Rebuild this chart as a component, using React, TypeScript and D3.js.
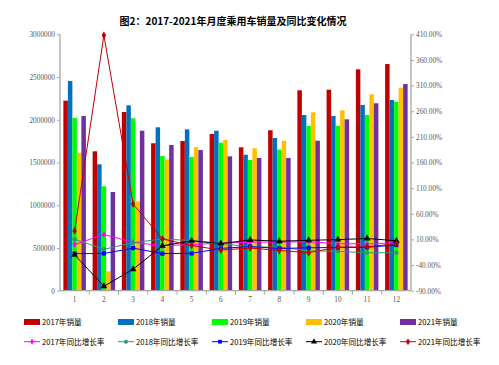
import React, { useEffect, useRef } from "react";
import * as d3 from "d3";

const months = ["1", "2", "3", "4", "5", "6", "7", "8", "9", "10", "11", "12"];
const barYears = ["2017年销量", "2018年销量", "2019年销量", "2020年销量", "2021年销量"];
const sales2017 = [2223000, 1631000, 2091000, 1725000, 1751000, 1833000, 1678000, 1877000, 2345000, 2352000, 2590000, 2652000];
const sales2018 = [2453000, 1479000, 2169000, 1912000, 1888000, 1872000, 1591000, 1787000, 2056000, 2044000, 2173000, 2231000];
const sales2019 = [2020000, 1221000, 2017000, 1576000, 1564000, 1732000, 1529000, 1650000, 1927000, 1927000, 2056000, 2211000];
const sales2020 = [1615000, 227000, 1046000, 1537000, 1678000, 1763000, 1666000, 1755000, 2087000, 2111000, 2298000, 2375000];
const sales2021 = [2044000, 1155000, 1872000, 1705000, 1646000, 1572000, 1553000, 1553000, 1755000, 2005000, 2193000, 2418000];

const lineYears = ["2017年同比增长率", "2018年同比增长率", "2019年同比增长率", "2020年同比增长率", "2021年同比增长率"];
const growth2017 = [0.2, 19.5, 4.4, -2.2, -0.1, 2.9, 4.5, 5.2, 5.2, 1.7, 1.4, 3.5];
const growth2018 = [10.4, -9.3, 3.8, 10.8, 7.8, 2.1, -5.1, -4.8, -12.3, -13.1, -16.1, -15.9];
const growth2019 = [-17.7, -17.4, -7.0, -17.6, -17.2, -7.5, -3.9, -7.7, -6.3, -5.7, -5.4, -0.9];
const growth2020 = [-20.0, -81.4, -48.1, -2.5, 7.3, 1.8, 9.0, 6.4, 8.3, 9.6, 11.8, 7.4];
const growth2021 = [26.6, 408.0, 79.0, 11.0, -1.9, -10.8, -6.8, -11.5, -15.9, -5.0, -4.6, 1.8];

const leftTicks = [0, 500000, 1000000, 1500000, 2000000, 2500000, 3000000];
const rightTicks = [-90, -40, 10, 60, 110, 160, 210, 260, 310, 360, 410];

const barColors = ["#C00000", "#0070C0", "#00FF00", "#FFC000", "#7030A0"];
const lineColors = ["#FF00FF", "#339966", "#0000FF", "#000000", "#C00000"];
const symbols = [d3.symbolDiamond, d3.symbolCircle, d3.symbolSquare, d3.symbolTriangle, d3.symbolDiamond];
const symbolSizes = [14, 16, 18, 20, 18];

const App = () => {
  const svgRef = useRef<SVGSVGElement>(null);

  useEffect(() => {
    const svg = d3.select(svgRef.current);
    svg.selectAll("*").remove();

    const left = 60;
    const right = 411;
    const top = 34.3;
    const bottom = 290.7;
    const axisGrey = "#A6A6A6";
    const labelColor = "#595959";

    const salesData = [sales2017, sales2018, sales2019, sales2020, sales2021];
    const growthData = [growth2017, growth2018, growth2019, growth2020, growth2021];

    const x0 = d3.scaleBand().domain(months).range([left, right]).paddingInner(0.23).paddingOuter(0.115);
    const x1 = d3.scaleBand().domain(barYears).range([0, x0.bandwidth()]).padding(0);
    const xc = d3.scaleBand().domain(months).range([left, right]);
    const yL = d3.scaleLinear().domain([0, 3000000]).range([bottom, top]);
    const yR = d3.scaleLinear().domain([-90, 410]).range([bottom, top]);

    // title
    svg.append("text")
      .attr("x", 233)
      .attr("y", 25)
      .attr("text-anchor", "middle")
      .attr("font-family", "'Noto Sans CJK SC', sans-serif")
      .attr("font-weight", "bold")
      .attr("font-size", 10)
      .attr("fill", "#000")
      .text("图2：2017-2021年月度乘用车销量及同比变化情况");

    // bars
    barYears.forEach((name, si) => {
      svg.append("g")
        .selectAll("rect")
        .data(salesData[si])
        .join("rect")
        .attr("x", (d, i) => (x0(months[i]) as number) + (x1(name) as number))
        .attr("y", (d) => yL(d))
        .attr("width", x1.bandwidth())
        .attr("height", (d) => bottom - yL(d))
        .attr("fill", barColors[si]);
    });

    // axes
    const leftAxis = svg.append("g")
      .attr("transform", `translate(${left},0)`)
      .call(d3.axisLeft(yL).tickValues(leftTicks).tickSize(3).tickPadding(2).tickFormat((d) => String(d)));
    const rightAxis = svg.append("g")
      .attr("transform", `translate(${right},0)`)
      .call(d3.axisRight(yR).tickValues(rightTicks).tickSize(3).tickPadding(2).tickFormat((d) => (d as number).toFixed(2) + "%"));
    const bottomAxis = svg.append("g")
      .attr("transform", `translate(0,${bottom})`)
      .call(d3.axisBottom(xc).tickSize(0).tickPadding(6));

    [leftAxis, rightAxis, bottomAxis].forEach((g) => {
      g.attr("font-family", "'Liberation Serif', 'Times New Roman', serif");
      g.select(".domain").attr("stroke", axisGrey).attr("stroke-width", 1.3);
      g.selectAll(".tick line").attr("stroke", axisGrey);
      g.selectAll("text")
        .attr("font-family", "'Liberation Serif', 'Times New Roman', serif")
        .attr("font-size", 7.3)
        .attr("fill", labelColor);
    });
    leftAxis.select(".domain").attr("d", `M0,${top}V${bottom}`);
    rightAxis.select(".domain").attr("d", `M0,${top}V${bottom}`);
    bottomAxis.select(".domain").attr("d", `M${left},0H${right}`);

    // bottom boundary ticks
    svg.append("g")
      .selectAll("line")
      .data(months.slice(1))
      .join("line")
      .attr("x1", (d) => xc(d) as number)
      .attr("x2", (d) => xc(d) as number)
      .attr("y1", bottom)
      .attr("y2", bottom + 4)
      .attr("stroke", axisGrey);

    // lines
    const cx = (i: number) => (xc(months[i]) as number) + xc.bandwidth() / 2;
    lineYears.forEach((name, si) => {
      const line = d3.line<number>().x((d, i) => cx(i)).y((d) => yR(d));
      svg.append("path")
        .datum(growthData[si])
        .attr("d", line)
        .attr("fill", "none")
        .attr("stroke", lineColors[si])
        .attr("stroke-width", 1);
      svg.append("g")
        .selectAll("path")
        .data(growthData[si])
        .join("path")
        .attr("transform", (d, i) => `translate(${cx(i)},${yR(d)})`)
        .attr("d", d3.symbol().type(symbols[si]).size(symbolSizes[si]))
        .attr("fill", lineColors[si]);
    });

    // legend
    const legendX = [24, 118, 212, 306, 400];
    const legend1 = svg.append("g");
    barYears.forEach((name, i) => {
      legend1.append("rect")
        .attr("x", legendX[i])
        .attr("y", 319)
        .attr("width", 16)
        .attr("height", 6)
        .attr("fill", barColors[i]);
      legend1.append("text")
        .attr("x", legendX[i] + 18)
        .attr("y", 324.5)
        .attr("font-family", "'Noto Sans CJK SC', sans-serif")
        .attr("font-size", 7.6)
        .attr("fill", "#000")
        .text(name);
    });
    const legend2 = svg.append("g");
    lineYears.forEach((name, i) => {
      legend2.append("line")
        .attr("x1", legendX[i])
        .attr("x2", legendX[i] + 16)
        .attr("y1", 341.7)
        .attr("y2", 341.7)
        .attr("stroke", lineColors[i])
        .attr("stroke-width", 1);
      legend2.append("path")
        .attr("transform", `translate(${legendX[i] + 8},341.7)`)
        .attr("d", d3.symbol().type(symbols[i]).size(symbolSizes[i] * 0.8))
        .attr("fill", lineColors[i]);
      legend2.append("text")
        .attr("x", legendX[i] + 18)
        .attr("y", 344.5)
        .attr("font-family", "'Noto Sans CJK SC', sans-serif")
        .attr("font-size", 7.6)
        .attr("fill", "#000")
        .text(name);
    });
  }, []);

  return (
    <svg
      ref={svgRef}
      width={499}
      height={365}
      style={{ position: "absolute", left: 0, top: 0, background: "#fff" }}
    />
  );
};

export default App;
